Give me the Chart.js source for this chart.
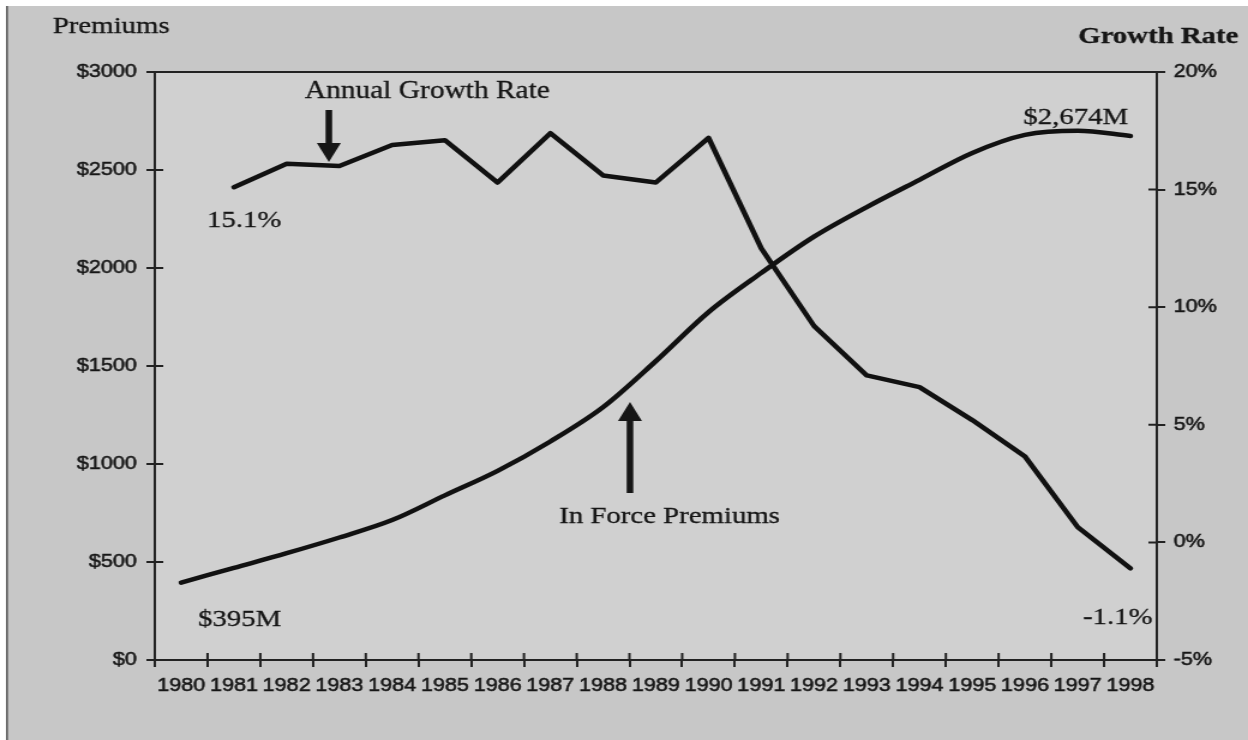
<!DOCTYPE html>
<html>
<head>
<meta charset="utf-8">
<script src="https://cdn.jsdelivr.net/npm/chart.js@4.4.1/dist/chart.umd.min.js"></script>
<style>
  html, body { margin: 0; padding: 0; background: #fff; overflow: hidden; }
  #wrap { width: 1040px; height: 740px; transform: scaleX(1.2); transform-origin: 0 0; }
  canvas { display: block; }
</style>
</head>
<body>
<div id="wrap"><canvas id="chart" width="1040" height="740"></canvas></div>
<script>
// Years on the category axis
const years = ['1980','1981','1982','1983','1984','1985','1986','1987','1988','1989',
               '1990','1991','1992','1993','1994','1995','1996','1997','1998'];

// In force premiums, $ millions
const premiums = [395, 470, 545, 625, 714, 840, 965, 1115, 1290, 1525,
                  1775, 1975, 2160, 2311, 2450, 2587, 2679, 2700, 2674];

// Annual growth rate of premiums, percent (no rate for the first year)
const growthRates = [null, 15.1, 16.1, 16.0, 16.9, 17.1, 15.3, 17.4, 15.6, 15.3,
                     17.2, 12.5, 9.2, 7.1, 6.6, 5.2, 3.65, 0.65, -1.1];

// Axis ranges and tick steps
const premiumAxis = { min: 0, max: 3000, step: 500 };
const growthAxis  = { min: -5, max: 20, step: 5 };

const INK = '#161616';
const SANS = 'Liberation Sans, Arial, sans-serif';
const SERIF = 'Liberation Serif, Times New Roman, serif';

// filled text with a hairline stroke so it reads a little heavier
function heavyText(ctx, str, x, y) {
  ctx.lineWidth = 0.3;
  ctx.strokeStyle = INK;
  ctx.fillStyle = INK;
  ctx.fillText(str, x, y);
  ctx.strokeText(str, x, y);
}

function drawArrow(ctx, x, yTail, yTip) {
  const dir = yTip > yTail ? 1 : -1;
  const headLen = 19, headHalf = 10;
  ctx.beginPath();
  ctx.lineWidth = 5.5;
  ctx.strokeStyle = INK;
  ctx.moveTo(x, yTail);
  ctx.lineTo(x, yTip - dir * (headLen - 2));
  ctx.stroke();
  ctx.beginPath();
  ctx.fillStyle = INK;
  ctx.moveTo(x, yTip);
  ctx.lineTo(x - headHalf, yTip - dir * headLen);
  ctx.lineTo(x + headHalf, yTip - dir * headLen);
  ctx.closePath();
  ctx.fill();
}

const framePlugin = {
  id: 'frame',
  beforeDraw(chart) {
    const { ctx, chartArea: a, width, height } = chart;
    ctx.save();
    ctx.fillStyle = '#ffffff';
    ctx.fillRect(0, 0, width, height);
    ctx.fillStyle = 'rgb(199,199,199)';
    ctx.fillRect(6, 6, width, height);
    ctx.fillStyle = '#5a5a5a';
    ctx.fillRect(5, 6, 1.6, height);
    ctx.fillStyle = 'rgb(208,208,208)';
    ctx.fillRect(a.left, a.top, a.right - a.left, a.bottom - a.top);
    ctx.restore();
  },
  afterDraw(chart) {
    const { ctx, chartArea: a, scales } = chart;
    const xs = scales.x, yL = scales.yL, yR = scales.yR;
    ctx.save();

    // top edge of the plot frame
    ctx.strokeStyle = '#222';
    ctx.lineWidth = 2;
    ctx.beginPath();
    ctx.moveTo(a.left - 1, a.top);
    ctx.lineTo(a.right + 1, a.top);
    ctx.stroke();

    // inner halves of the tick marks
    const stub = 7;
    ctx.beginPath();
    yL.ticks.forEach((t, i) => {
      const y = yL.getPixelForTick(i);
      ctx.moveTo(a.left, y); ctx.lineTo(a.left + stub, y);
    });
    yR.ticks.forEach((t, i) => {
      const y = yR.getPixelForTick(i);
      ctx.moveTo(a.right - stub, y); ctx.lineTo(a.right, y);
    });
    const half = (xs.getPixelForValue(1) - xs.getPixelForValue(0)) / 2;
    for (let i = 0; i <= years.length; i++) {
      const x = xs.getPixelForValue(Math.min(i, years.length - 1)) + (i === years.length ? half : -half);
      ctx.moveTo(x, a.bottom - stub); ctx.lineTo(x, a.bottom);
    }
    ctx.stroke();

    // axis captions
    ctx.textBaseline = 'alphabetic';
    ctx.font = '24px ' + SERIF;
    ctx.textAlign = 'left';
    heavyText(ctx, 'Premiums', 44, 33);
    ctx.font = 'bold 24px ' + SERIF;
    ctx.textAlign = 'right';
    heavyText(ctx, 'Growth Rate', 1032, 43);

    // value call-outs at the ends of the lines
    const last = years.length - 1;
    ctx.font = '24px ' + SERIF;
    ctx.textAlign = 'left';
    heavyText(ctx, '$' + premiums[0] + 'M', xs.getPixelForValue(0) + 14, yL.getPixelForValue(premiums[0]) + 43);
    heavyText(ctx, growthRates[1].toFixed(1) + '%', xs.getPixelForValue(1) - 22.5, yR.getPixelForValue(growthRates[1]) + 40);
    ctx.textAlign = 'right';
    heavyText(ctx, '$' + premiums[last].toLocaleString('en-US') + 'M', xs.getPixelForValue(last) - 2, yL.getPixelForValue(premiums[last]) - 12);
    heavyText(ctx, growthRates[last].toFixed(1) + '%', xs.getPixelForValue(last) + 18.5, yR.getPixelForValue(growthRates[last]) + 56);

    // series captions with arrows
    const band = half * 2;
    const ax1 = xs.getPixelForValue(2) + 0.8 * band;
    const tip1 = yR.getPixelForValue(growthRates[3]) - 4;
    drawArrow(ctx, ax1, 110, tip1);
    ctx.font = '24.5px ' + SERIF;
    ctx.textAlign = 'left';
    heavyText(ctx, 'Annual Growth Rate', ax1 - 20, 98);

    const ax2 = xs.getPixelForValue(8) + 0.51 * band;
    const base2 = 523;
    drawArrow(ctx, ax2, base2 - 30, base2 - 121);
    ctx.font = '24px ' + SERIF;
    heavyText(ctx, 'In Force Premiums', ax2 - 59, base2);

    ctx.restore();
  }
};

const tickFont = { family: SANS, size: 18 };
const tickText = { font: tickFont, color: INK, textStrokeColor: INK, textStrokeWidth: 0.5 };
const gridOpts = { drawOnChartArea: false, drawTicks: true, tickLength: 7, color: '#222', lineWidth: 2 };
const borderOpts = { display: true, color: '#222', width: 2 };

new Chart(document.getElementById('chart'), {
  type: 'line',
  data: {
    labels: years,
    datasets: [
      {
        label: 'In Force Premiums',
        data: premiums,
        yAxisID: 'yL',
        borderColor: '#111',
        borderWidth: 4.5,
        cubicInterpolationMode: 'monotone',
        borderCapStyle: 'round',
        borderJoinStyle: 'round',
        pointRadius: 0,
        fill: false
      },
      {
        label: 'Annual Growth Rate',
        data: growthRates,
        yAxisID: 'yR',
        borderColor: '#111',
        borderWidth: 4.5,
        tension: 0,
        borderCapStyle: 'round',
        borderJoinStyle: 'round',
        pointRadius: 0,
        fill: false
      }
    ]
  },
  options: {
    responsive: false,
    animation: false,
    devicePixelRatio: 1,
    layout: { padding: { top: 72, left: 0, right: 0, bottom: 0 } },
    plugins: { legend: { display: false }, tooltip: { enabled: false } },
    scales: {
      x: {
        type: 'category',
        offset: true,
        grid: Object.assign({ offset: true }, gridOpts),
        border: borderOpts,
        ticks: Object.assign({ padding: 8, maxRotation: 0, autoSkip: false }, tickText),
        afterFit(s) { s.height = 80; }
      },
      yL: {
        position: 'left',
        min: premiumAxis.min, max: premiumAxis.max,
        grid: gridOpts,
        border: borderOpts,
        ticks: Object.assign({ stepSize: premiumAxis.step, padding: 8, callback: v => '$' + v }, tickText),
        afterFit(s) { s.width = 129; }
      },
      yR: {
        position: 'right',
        min: growthAxis.min, max: growthAxis.max,
        grid: gridOpts,
        border: borderOpts,
        ticks: Object.assign({ stepSize: growthAxis.step, padding: 7, callback: v => v + '%' }, tickText),
        afterFit(s) { s.width = 76; }
      }
    }
  },
  plugins: [framePlugin]
});
</script>
</body>
</html>
